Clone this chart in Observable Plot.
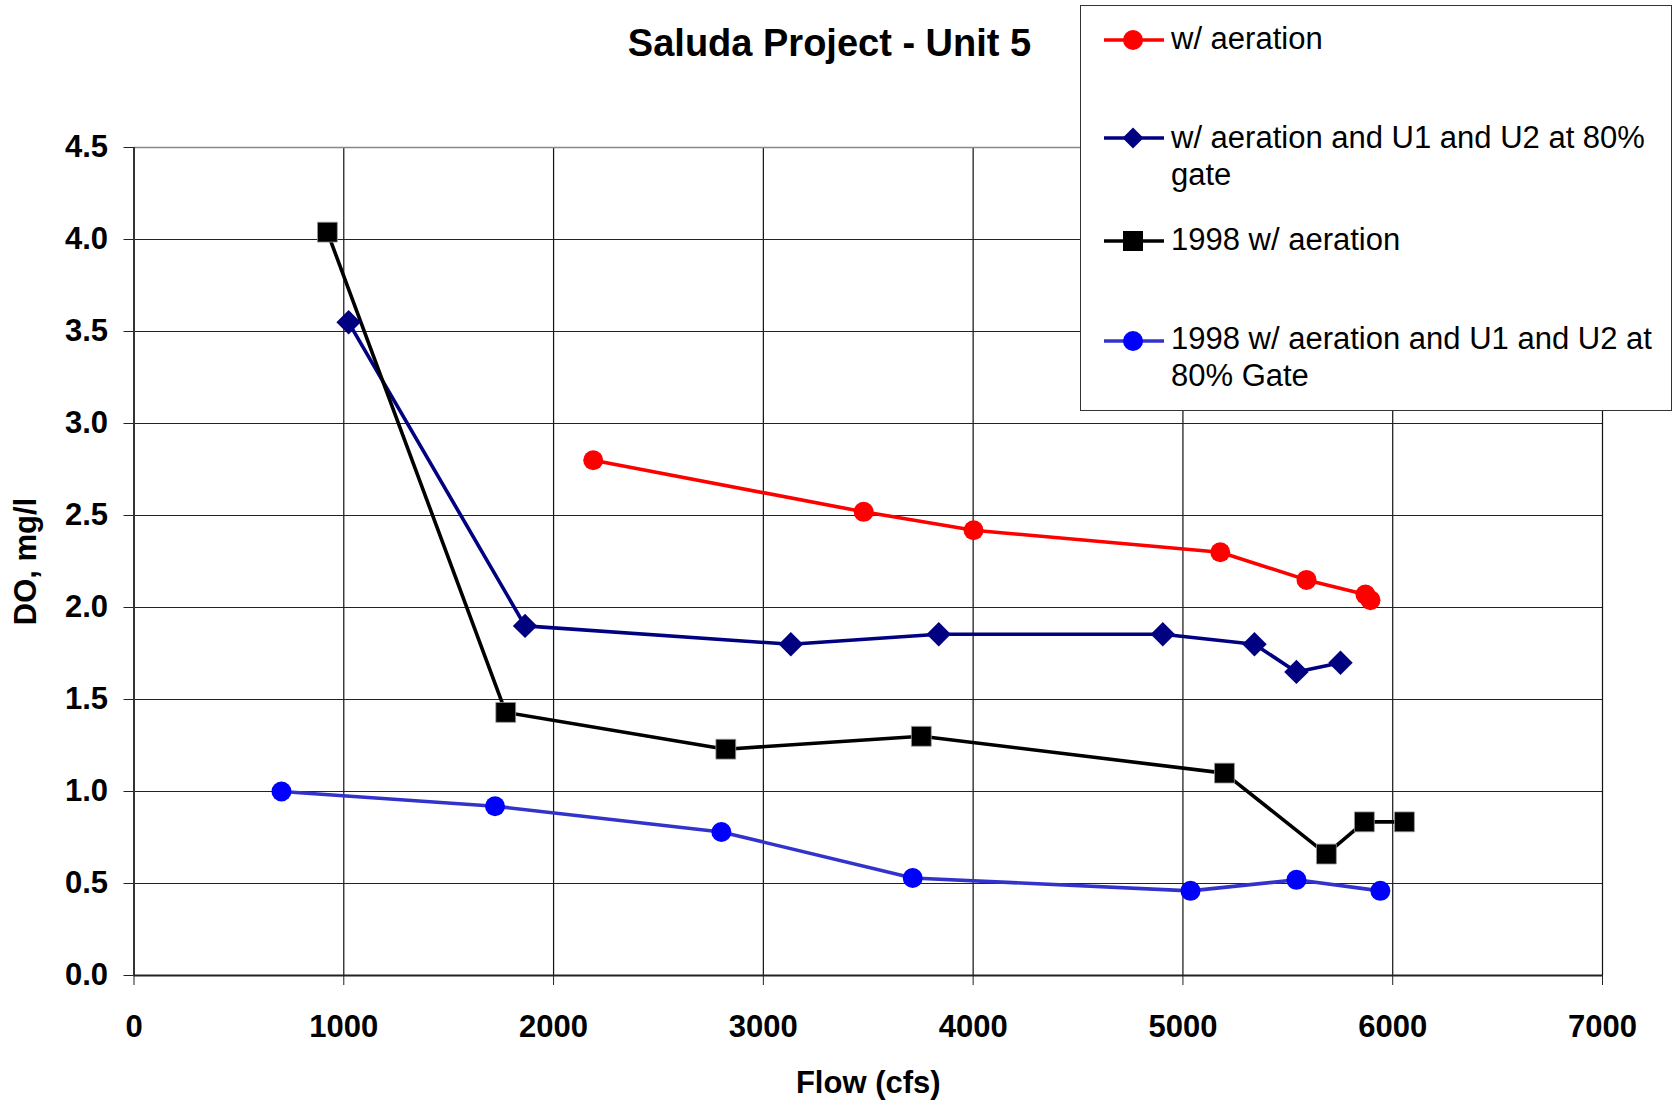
<!DOCTYPE html>
<html>
<head>
<meta charset="utf-8">
<script src="https://cdn.jsdelivr.net/npm/d3@7"></script>
<script src="https://cdn.jsdelivr.net/npm/@observablehq/plot@0.6"></script>
<style>
  html, body { margin: 0; padding: 0; background: #fff; }
  #wrap { position: relative; width: 1675px; height: 1102px; overflow: hidden; font-family: "Liberation Sans", Arial, sans-serif; }
  #chart { position: absolute; left: 0; top: 0; }
  #title { position: absolute; left: 429.5px; width: 800px; top: 23.8px; text-align: center; font-size: 38px; line-height: 38px; font-weight: bold; color: #000; }
  #legend { position: absolute; left: 1080px; top: 5px; width: 590px; height: 404px; border: 1px solid #333; background: #fff; }
  .entry { position: absolute; left: 0; }
  .entry svg { position: absolute; left: 22px; }
  .entry .txt { position: absolute; left: 90px; font-size: 31px; line-height: 37px; white-space: nowrap; color: #000; }
</style>
</head>
<body>
<div id="wrap">
  <div id="chart"></div>
  <div id="title">Saluda Project - Unit 5</div>
  <div id="legend"></div>
</div>
<script>
// ---- data ----
const seriesNames = [
  "w/ aeration",
  "w/ aeration and U1 and U2 at 80%\ngate",
  "1998 w/ aeration",
  "1998 w/ aeration and U1 and U2 at\n80% Gate"
];
const flowAer   = [2189, 3478, 4002, 5178, 5589, 5870, 5894];
const doAer     = [2.80, 2.52, 2.42, 2.30, 2.15, 2.07, 2.04];
const flowAerU  = [1023, 1864, 3131, 3836, 4904, 5341, 5541, 5751];
const doAerU    = [3.55, 1.90, 1.80, 1.855, 1.855, 1.80, 1.65, 1.70];
const flow98    = [922, 1772, 2821, 3753, 5198, 5684, 5865, 6056];
const do98      = [4.04, 1.43, 1.23, 1.30, 1.10, 0.66, 0.835, 0.835];
const flow98U   = [703, 1721, 2800, 3712, 5036, 5541, 5941];
const do98U     = [1.00, 0.92, 0.78, 0.53, 0.46, 0.52, 0.46];
const xTicks = [0, 1000, 2000, 3000, 4000, 5000, 6000, 7000];
const yTicks = [0, 0.5, 1.0, 1.5, 2.0, 2.5, 3.0, 3.5, 4.0, 4.5];

const colors = ["#ff0000", "#000080", "#000000", "#0000ff"];
const lineColors = ["#ff0000", "#000080", "#000000", "#3333cc"];

const toRows = (xs, ys) => xs.map((x, i) => ({flow: x, DO: ys[i]}));
const s1 = toRows(flowAer, doAer);
const s2 = toRows(flowAerU, doAerU);
const s3 = toRows(flow98, do98);
const s4 = toRows(flow98U, do98U);

const chart = Plot.plot({
  width: 1675,
  height: 1102,
  marginLeft: 133.5,
  marginRight: 73,
  marginTop: 147,
  marginBottom: 127,
  style: {fontFamily: "'Liberation Sans', Arial, sans-serif", fontSize: "31px", fontWeight: "bold", color: "#000", background: "transparent"},
  x: {domain: [0, 7000]},
  y: {domain: [0, 4.5]},
  marks: [
    Plot.gridX(xTicks.slice(1), {stroke: "#111", strokeOpacity: 1, strokeWidth: 1.2}),
    Plot.gridY(yTicks.slice(1, -1), {stroke: "#222", strokeOpacity: 1, strokeWidth: 1.2}),
    Plot.gridY([4.5], {stroke: "#888", strokeOpacity: 1, strokeWidth: 1.5}),
    Plot.axisX({ticks: xTicks, tickSize: 10, tickPadding: 29, tickFormat: d3.format("d"),
      label: "Flow (cfs)", labelAnchor: "center", labelArrow: "none", labelOffset: 117, stroke: "#222"}),
    Plot.axisY({ticks: yTicks, tickSize: 10, tickPadding: 16, tickFormat: d3.format(".1f"),
      label: "DO, mg/l", labelAnchor: "center", labelArrow: "none", labelOffset: 120, stroke: "#222"}),
    Plot.ruleX([0], {stroke: "#333", strokeWidth: 2}),
    Plot.ruleY([0], {stroke: "#222", strokeWidth: 2}),
    Plot.line(s1, {x: "flow", y: "DO", stroke: lineColors[0], strokeWidth: 3.6}),
    Plot.line(s2, {x: "flow", y: "DO", stroke: lineColors[1], strokeWidth: 3.6}),
    Plot.line(s3, {x: "flow", y: "DO", stroke: lineColors[2], strokeWidth: 3.6}),
    Plot.line(s4, {x: "flow", y: "DO", stroke: lineColors[3], strokeWidth: 3.6}),
    Plot.dot(s1, {x: "flow", y: "DO", fill: colors[0], r: 10, symbol: "circle"}),
    Plot.dot(s2, {x: "flow", y: "DO", fill: colors[1], r: 11, symbol: "diamond2"}),
    Plot.dot(s3, {x: "flow", y: "DO", fill: colors[2], r: 11.2, symbol: "square", stroke: "#999", strokeWidth: 0.8}),
    Plot.dot(s4, {x: "flow", y: "DO", fill: colors[3], r: 10, symbol: "circle"})
  ]
});
document.getElementById("chart").appendChild(chart);

// ---- legend ----
const legendTops = [13.7, 112.7, 214.7, 313.7];   // text block tops
const symbolCenters = [34, 132, 235, 335];
const legend = document.getElementById("legend");
const symbolSvg = (i) => {
  const c = colors[i], lc = lineColors[i];
  let m = "";
  if (i === 0 || i === 3) m = `<circle cx="30" cy="12" r="10" fill="${c}"/>`;
  else if (i === 1) m = `<polygon points="30,1.5 40.5,12 30,22.5 19.5,12" fill="${c}"/>`;
  else m = `<rect x="20" y="2" width="20" height="20" fill="${c}"/>`;
  return `<svg width="62" height="24" viewBox="0 0 62 24"><line x1="1" y1="12" x2="61" y2="12" stroke="${lc}" stroke-width="3.6"/>${m}</svg>`;
};
seriesNames.forEach((name, i) => {
  const e = document.createElement("div");
  e.className = "entry";
  e.innerHTML = symbolSvg(i) + `<div class="txt">${name.split("\n").join("<br>")}</div>`;
  legend.appendChild(e);
  e.querySelector("svg").style.top = (symbolCenters[i] - 12) + "px";
  e.querySelector(".txt").style.top = legendTops[i] + "px";
});
</script>
</body>
</html>
